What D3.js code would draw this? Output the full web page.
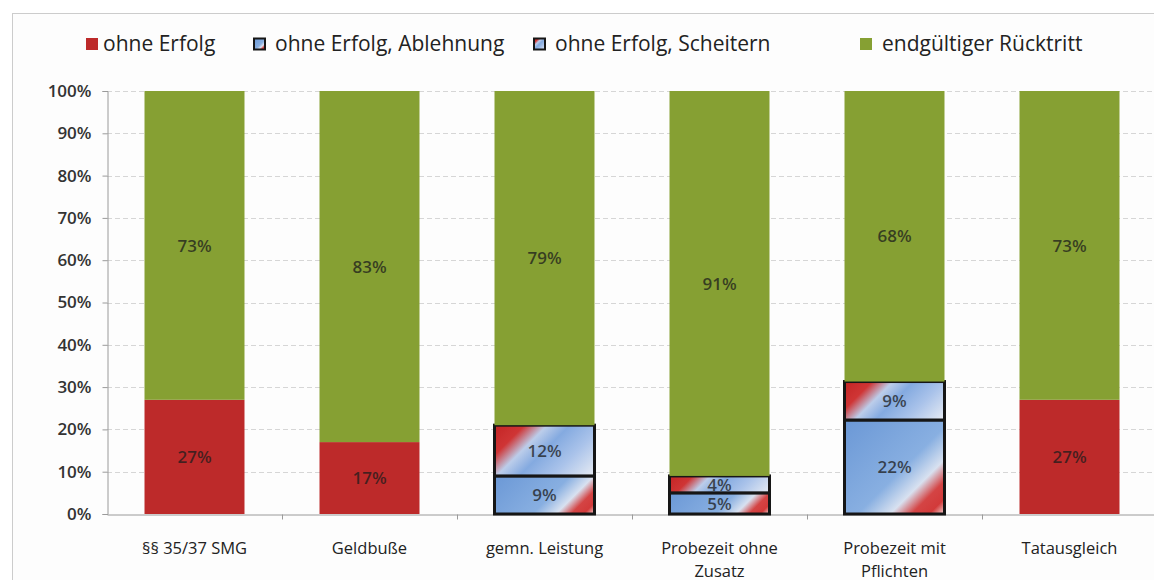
<!DOCTYPE html>
<html>
<head>
<meta charset="utf-8">
<script src="https://cdn.jsdelivr.net/npm/d3@7"></script>
<style>
  body { margin: 0; background: #fff; }
  svg { display: block; }
</style>
</head>
<body>
<div id="chart"></div>
<script>
// data
const categories = ["§§ 35/37 SMG", "Geldbuße", "gemn. Leistung", "Probezeit ohne Zusatz", "Probezeit mit Pflichten", "Tatausgleich"];
const seriesNames = ["ohne Erfolg", "ohne Erfolg, Ablehnung", "ohne Erfolg, Scheitern", "endgültiger Rücktritt"];
const ohneErfolg = [27, 17, 0, 0, 0, 27];
const ablehnung  = [0, 0, 9, 5, 22, 0];
const scheitern  = [0, 0, 12, 4, 9, 0];
const ruecktritt = [73, 83, 79, 91, 68, 73];
const yTicks = [0, 0.1, 0.2, 0.3, 0.4, 0.5, 0.6, 0.7, 0.8, 0.9, 1];

const width = 1154, height = 580;
const margin = { top: 91, right: -3, bottom: 66, left: 107 };
const graphWidth = width - margin.left - margin.right;
const graphHeight = height - margin.top - margin.bottom;
const font = '"Open Sans", Lato, sans-serif';

const rows = categories.map((c, i) => ({
    name: c,
    [seriesNames[0]]: ohneErfolg[i],
    [seriesNames[1]]: ablehnung[i],
    [seriesNames[2]]: scheitern[i],
    [seriesNames[3]]: ruecktritt[i]
}));

const stacked = d3.stack()
    .keys(seriesNames)
    .offset(d3.stackOffsetExpand)(rows);

const fills = {
    "ohne Erfolg": "#bd2a2a",
    "endgültiger Rücktritt": "#86a033"
};
const gradStops = {
    "ohne Erfolg, Ablehnung": [[0, "#6b98d6"], [0.55, "#88afe1"], [0.72, "#d8e1f0"], [0.83, "#d44444"], [0.92, "#d23a3a"], [1, "#f2d8d8"]],
    "ohne Erfolg, Scheitern": [[0, "#c42424"], [0.2, "#cf3535"], [0.35, "#bccdea"], [0.5, "#84aae0"], [0.72, "#aac3ea"], [1, "#e8ecf3"]]
};

const x = d3.scaleBand()
    .domain(categories)
    .range([0, graphWidth])
    .paddingInner(0.4286)
    .paddingOuter(0.2143);

const y = d3.scaleLinear()
    .domain([0, 1])
    .range([graphHeight, 0]);

const svg = d3.select('#chart').append('svg')
    .attr('width', width)
    .attr('height', height)
    .style('font-family', font);

const defs = svg.append('defs');

// chart frame
svg.append('rect')
    .attr('x', 12.5).attr('y', 13.5)
    .attr('width', width).attr('height', height)
    .attr('fill', '#fdfdfd')
    .attr('stroke', '#cccccc');

const graph = svg.append('g')
    .attr('transform', `translate(${margin.left}, ${margin.top})`);

// gridlines
graph.append('g')
    .selectAll('line')
    .data(yTicks.filter(t => t > 0))
    .enter().append('line')
    .attr('x1', 0).attr('x2', graphWidth)
    .attr('y1', d => Math.round(y(d)) + 0.5)
    .attr('y2', d => Math.round(y(d)) + 0.5)
    .attr('stroke', '#d6d6d6')
    .attr('stroke-dasharray', '5,3');

// y axis
const yAxisGroup = graph.append('g').attr('transform', 'translate(0.5,0)');
yAxisGroup.call(d3.axisLeft(y).tickValues(yTicks).tickFormat(d3.format('.0%')).tickSize(5).tickPadding(11));
yAxisGroup.attr('font-family', font);
yAxisGroup.select('.domain').attr('stroke', '#9a9a9a');
yAxisGroup.selectAll('.tick line').attr('stroke', '#9a9a9a');
yAxisGroup.selectAll('.tick text')
    .attr('fill', '#333')
    .style('font-size', '17px')
    .style('font-weight', '600');

// x axis
const xAxisGroup = graph.append('g').attr('transform', `translate(0, ${graphHeight + 0.5})`);
xAxisGroup.call(d3.axisBottom(x).tickSize(0).tickPadding(28));
xAxisGroup.attr('font-family', font);
xAxisGroup.select('.domain').attr('stroke', '#9a9a9a');
xAxisGroup.selectAll('.tick text')
    .attr('fill', '#222')
    .style('font-size', '16.5px')
    .call(wrap, 140);

// category boundary ticks
xAxisGroup.append('g')
    .selectAll('line')
    .data(categories.slice(1))
    .enter().append('line')
    .attr('x1', d => Math.round(x(d) - x.step() * x.paddingInner() / 2) + 0.5)
    .attr('x2', d => Math.round(x(d) - x.step() * x.paddingInner() / 2) + 0.5)
    .attr('y1', 0).attr('y2', 5)
    .attr('stroke', '#9a9a9a');

function wrap(text, w) {
    text.each(function () {
        const t = d3.select(this);
        const words = t.text().split(/\s+/);
        const yy = t.attr('y');
        const dy = parseFloat(t.attr('dy'));
        let line = [];
        let lineNo = 0;
        let tspan = t.text(null).append('tspan').attr('x', 0).attr('y', yy).attr('dy', dy + 'em');
        words.forEach(word => {
            line.push(word);
            tspan.text(line.join(' '));
            if (tspan.node().getComputedTextLength() > w && line.length > 1) {
                line.pop();
                tspan.text(line.join(' '));
                line = [word];
                lineNo++;
                tspan = t.append('tspan').attr('x', 0).attr('y', yy)
                    .attr('dy', (dy + lineNo * 1.4) + 'em').text(word);
            }
        });
    });
}

// bars
let gid = 0;
const segs = [];
stacked.forEach(layer => {
    layer.forEach(d => {
        if (d.data[layer.key] > 0) segs.push({ key: layer.key, y0: d[0], y1: d[1], name: d.data.name, value: d.data[layer.key] });
    });
});

// gradient in the local coordinates of the rect, 45 degrees, top-left -> bottom-right
function gradFor(key, x0, y0, w, h) {
    const id = 'g' + (gid++);
    const s = (w + h) / 2;
    const g = defs.append('linearGradient')
        .attr('id', id)
        .attr('gradientUnits', 'userSpaceOnUse')
        .attr('x1', x0).attr('y1', y0)
        .attr('x2', x0 + s).attr('y2', y0 + s);
    gradStops[key].forEach(st => g.append('stop').attr('offset', st[0]).attr('stop-color', st[1]));
    return `url(#${id})`;
}

graph.append('g')
    .selectAll('rect')
    .data(segs)
    .enter().append('rect')
    .attr('x', d => x(d.name))
    .attr('y', d => y(d.y1))
    .attr('width', x.bandwidth())
    .attr('height', d => y(d.y0) - y(d.y1))
    .attr('fill', d => fills[d.key] || gradFor(d.key, x(d.name), y(d.y1), x.bandwidth(), y(d.y0) - y(d.y1)))
    .attr('stroke', d => fills[d.key] ? 'none' : '#161616')
    .attr('stroke-width', 3);

graph.append('g')
    .selectAll('text')
    .data(segs)
    .enter().append('text')
    .attr('x', d => x(d.name) + x.bandwidth() / 2)
    .attr('y', d => y((d.y0 + d.y1) / 2))
    .attr('dy', '0.36em')
    .attr('text-anchor', 'middle')
    .attr('fill', '#1c1c1c')
    .attr('fill-opacity', 0.75)
    .style('font-size', '17px')
    .style('font-weight', '600')
    .text(d => d.value + '%');

// legend
const legendX = [86, 253, 533, 860];
const legend = svg.append('g');
seriesNames.forEach((name, i) => {
    const g = legend.append('g').attr('transform', `translate(${legendX[i]}, 0)`);
    if (fills[name]) {
        g.append('rect').attr('x', 0).attr('y', 38).attr('width', 12).attr('height', 12).attr('fill', fills[name]);
    } else {
        g.append('rect').attr('x', 1).attr('y', 38.5).attr('width', 11).attr('height', 11)
            .attr('fill', gradFor(name, 1, 38.5, 11, 11))
            .attr('stroke', '#161616').attr('stroke-width', 2);
    }
    g.append('text')
        .attr('x', i === 0 ? 17 : 22)
        .attr('y', 51)
        .attr('fill', '#222')
        .style('font-size', '21px')
        .text(name);
});
</script>
</body>
</html>
